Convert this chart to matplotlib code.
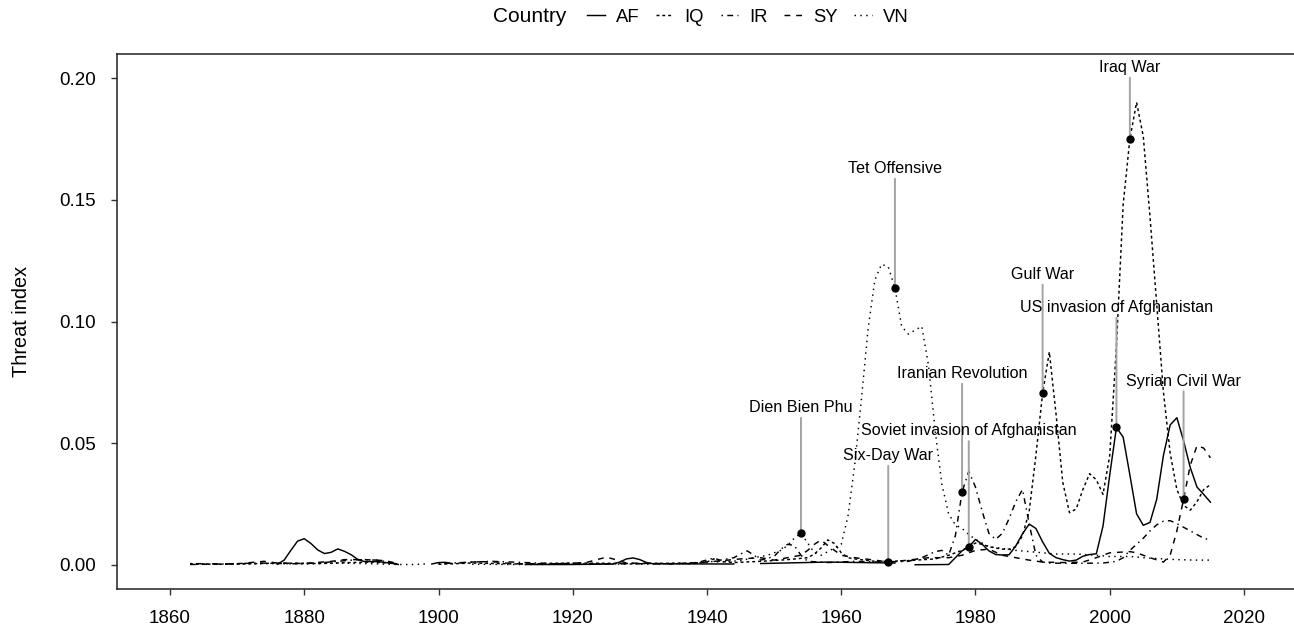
import numpy as np
import matplotlib.pyplot as plt
from matplotlib.lines import Line2D

plt.rcParams['font.family'] = 'Liberation Sans'

nan = np.nan

# threat index per country (year, value); nan marks gaps in the series
af_year = [1876, 1877, 1878, 1879, 1880, 1881, 1882, 1883, 1884, 1885, 1886, 1887, 1888, 1889, 1891, 1893, 1894, 1895,
           1899, 1900, 1901, 1902, 1903,
           1913, 1920, 1926, 1927, 1928, 1929, 1930, 1931, 1932, 1944, 1945,
           1948, 1958, 1968, 1969,
           1971, 1976, 1977, 1978, 1979, 1980, 1981, 1982, 1983, 1984, 1985, 1986, 1987, 1988, 1989, 1990,
           1991, 1992, 1993, 1994, 1995, 1996, 1997, 1998, 1999, 2000, 2001, 2002, 2003, 2004, 2005,
           2006, 2007, 2008, 2009, 2010, 2011, 2012, 2013, 2014, 2015]
af_val = [0.0003, 0.002, 0.006, 0.0098, 0.0108, 0.0088, 0.0062, 0.0047, 0.0052, 0.0066, 0.0056, 0.0042, 0.0022, 0.0014, 0.0014, 0.0007, 0.0002, nan,
          0.0004, 0.001, 0.0011, 0.0006, nan,
          0.0002, 0.0002, 0.0004, 0.0012, 0.0025, 0.0029, 0.0022, 0.001, 0.0005, 0.0004, nan,
          0.0006, 0.0012, 0.0008, nan,
          0.0001, 0.0002, 0.003, 0.0058, 0.0075, 0.0105, 0.0085, 0.0058, 0.0043, 0.0041, 0.0042, 0.0078, 0.0128, 0.0168, 0.015, 0.0095,
          0.0048, 0.003, 0.0022, 0.0016, 0.002, 0.0036, 0.0043, 0.0046, 0.016, 0.037, 0.0565, 0.0525, 0.037, 0.021, 0.0163,
          0.0175, 0.027, 0.045, 0.0575, 0.0605, 0.051, 0.04, 0.032, 0.029, 0.0258]

iq_year = [1863, 1868, 1872, 1876, 1882, 1887, 1890, 1894, 1895,
           1900, 1905, 1912, 1920, 1930, 1938, 1940, 1941, 1942, 1944, 1948, 1952, 1955, 1956, 1957, 1958, 1959, 1960, 1961, 1962, 1965, 1967, 1970, 1974, 1976, 1978,
           1980, 1981, 1982, 1983, 1984, 1985, 1986, 1987, 1988, 1989, 1990, 1991, 1992, 1993, 1994, 1995, 1996, 1997, 1998, 1999,
           2000, 2001, 2002, 2003, 2004, 2005, 2006, 2007, 2008, 2009, 2010, 2011, 2012, 2013, 2014, 2015]
iq_val = [0.0004, 0.0003, 0.0005, 0.0008, 0.0006, 0.001, 0.0012, 0.0005, nan,
          0.0003, 0.0008, 0.0004, 0.0008, 0.0006, 0.0008, 0.0012, 0.0025, 0.0015, 0.001, 0.0015, 0.0022, 0.003, 0.0045, 0.007, 0.0103, 0.0088, 0.005, 0.003, 0.0025, 0.0015, 0.0015, 0.0018, 0.0025, 0.004, 0.006,
          0.009, 0.0085, 0.0075, 0.007, 0.0065, 0.0065, 0.0075, 0.012, 0.022, 0.045, 0.0705, 0.0875, 0.062, 0.034, 0.0215, 0.023, 0.031, 0.0375, 0.035, 0.029,
          0.045, 0.09, 0.148, 0.175, 0.19, 0.176, 0.143, 0.107, 0.071, 0.046, 0.031, 0.0245, 0.0225, 0.026, 0.031, 0.033]

ir_year = [1863, 1868, 1873, 1878, 1882, 1885, 1888, 1891, 1894, 1895,
           1900, 1905, 1908, 1911, 1915, 1920, 1930, 1938, 1941, 1942, 1944, 1945, 1946, 1947, 1948, 1950, 1951, 1952, 1953, 1954, 1955, 1958, 1962, 1966, 1970, 1972, 1974, 1975, 1976,
           1977, 1978, 1979, 1980, 1981, 1982, 1983, 1984, 1985, 1986, 1987, 1988, 1989, 1990, 1991, 1993, 1996, 1999,
           2001, 2002, 2003, 2004, 2005, 2006, 2007, 2008, 2009, 2010, 2011, 2012, 2013, 2014, 2015]
ir_val = [0.0006, 0.0004, 0.0008, 0.0005, 0.0008, 0.0015, 0.0022, 0.002, 0.0004, nan,
          0.0005, 0.0012, 0.0015, 0.0012, 0.0008, 0.0004, 0.0005, 0.0006, 0.0028, 0.002, 0.003, 0.0045, 0.0058, 0.004, 0.002, 0.0035, 0.0065, 0.0085, 0.008, 0.004, 0.0015, 0.001, 0.0015, 0.0012, 0.0015, 0.003, 0.0055, 0.006, 0.004,
          0.012, 0.030, 0.0385, 0.032, 0.022, 0.013, 0.0105, 0.013, 0.019, 0.026, 0.031, 0.017, 0.004, 0.0012, 0.0008, 0.0007, 0.0007, 0.0008,
          0.0015, 0.003, 0.006, 0.0085, 0.011, 0.014, 0.0165, 0.018, 0.0182, 0.017, 0.0155, 0.014, 0.0125, 0.011, 0.0102]

sy_year = [1863, 1870, 1872, 1874, 1876, 1880, 1884, 1886, 1889, 1892, 1894, 1895,
           1903, 1906, 1909, 1911, 1918, 1922, 1924, 1925, 1926, 1928, 1935, 1940, 1945, 1948, 1950, 1954, 1955, 1956, 1957, 1958, 1959, 1960, 1962, 1965, 1967, 1970, 1973, 1976, 1978,
           1980, 1982, 1984, 1986, 1988, 1990, 1993, 1996, 1998, 2000, 2003, 2004, 2006, 2008, 2009, 2010, 2011, 2012, 2013, 2014, 2015]
sy_val = [0.0002, 0.0005, 0.001, 0.0015, 0.0008, 0.0006, 0.0015, 0.0022, 0.0022, 0.0018, 0.0006, nan,
          0.0008, 0.0014, 0.0012, 0.0005, 0.0005, 0.001, 0.0025, 0.0032, 0.0025, 0.0008, 0.0005, 0.0012, 0.0025, 0.003, 0.002, 0.004, 0.006, 0.0085, 0.0103, 0.008, 0.006, 0.004, 0.003, 0.002, 0.0012, 0.002, 0.003, 0.003, 0.004,
          0.006, 0.0065, 0.004, 0.003, 0.002, 0.0012, 0.001, 0.0012, 0.003, 0.005, 0.0055, 0.005, 0.003, 0.0012, 0.004, 0.014, 0.027, 0.041, 0.049, 0.048, 0.044]

vn_year = [1863, 1870, 1875, 1880, 1885, 1890, 1894, 1896, 1898, 1899,
           1905, 1912, 1920, 1930, 1938, 1940, 1942, 1945, 1947, 1949, 1950, 1951, 1952, 1953, 1954, 1955, 1956, 1957, 1958, 1959, 1960,
           1961, 1962, 1963, 1964, 1965, 1966, 1967, 1968, 1969, 1970, 1971, 1972, 1973, 1974, 1975, 1976, 1977, 1978, 1979, 1980,
           1981, 1982, 1984, 1986, 1988, 1990, 1992, 1995, 1998, 2000, 2003, 2006, 2008, 2010, 2013, 2015]
vn_val = [0.0003, 0.0004, 0.0006, 0.0004, 0.0008, 0.0005, 0.0002, 0.0002, 0.0004, nan,
          0.0003, 0.0002, 0.0003, 0.0004, 0.0005, 0.0015, 0.0012, 0.0018, 0.003, 0.004, 0.005, 0.006, 0.008, 0.011, 0.0131, 0.009, 0.005, 0.004, 0.0055, 0.007, 0.0085,
          0.02, 0.041, 0.068, 0.097, 0.117, 0.1235, 0.1225, 0.1138, 0.098, 0.0948, 0.0965, 0.098, 0.082, 0.055, 0.033, 0.021, 0.0165, 0.015, 0.0125, 0.0105,
          0.009, 0.0075, 0.0068, 0.006, 0.0055, 0.005, 0.0045, 0.0045, 0.004, 0.0035, 0.0035, 0.0028, 0.0025, 0.0022, 0.002, 0.002]

countries = ['AF', 'IQ', 'IR', 'SY', 'VN']
series = {
    'AF': (af_year, af_val),
    'IQ': (iq_year, iq_val),
    'IR': (ir_year, ir_val),
    'SY': (sy_year, sy_val),
    'VN': (vn_year, vn_val),
}

event_labels = ['Dien Bien Phu', 'Tet Offensive', 'Six-Day War', 'Iranian Revolution',
                'Soviet invasion of Afghanistan', 'Gulf War', 'US invasion of Afghanistan',
                'Iraq War', 'Syrian Civil War']
event_country = ['VN', 'VN', 'SY', 'IR', 'AF', 'IQ', 'AF', 'IQ', 'SY']
event_year = [1954, 1968, 1967, 1978, 1979, 1990, 2001, 2003, 2011]
# label heights (layout only)
label_y = [0.0628, 0.161, 0.0431, 0.0768, 0.0532, 0.1175, 0.1039, 0.2025, 0.0737]

styles = {
    'AF': '-',
    'IQ': (0, (2, 2)),
    'IR': (0, (1, 3, 4, 3)),
    'SY': (0, (4, 4)),
    'VN': (0, (1, 3)),
}

W, H = 1294, 627
fig = plt.figure(figsize=(W / 100, H / 100), dpi=100)
# right edge of the panel sits just off the canvas, as in the reference
ax = fig.add_axes([117 / W, 38 / H, (1296 - 117) / W, (589 - 54) / H])

handles = []
for c in countries:
    yrs, vals = series[c]
    ax.plot(yrs, vals, color='black', lw=1.05, linestyle=styles[c])
    handles.append(Line2D([], [], color='black', lw=1.05, linestyle=styles[c]))

for lab, c, yr, ly in zip(event_labels, event_country, event_year, label_y):
    yrs, vals = series[c]
    v = dict(zip(yrs, vals))[yr]
    ax.annotate(lab, xy=(yr, v), xytext=(yr, ly), ha='center', va='baseline',
                fontsize=11.6, color='black',
                arrowprops=dict(arrowstyle='-', color='#a3a3a3', lw=1.4,
                                shrinkA=0, shrinkB=0))
    ax.plot(yr, v, 'o', color='black', ms=5, zorder=5)

ax.set_xlim(1852.1, 2027.75)
ax.set_ylim(-0.00986, 0.20986)
ax.set_xticks([1860, 1880, 1900, 1920, 1940, 1960, 1980, 2000, 2020])
ax.set_yticks([0.0, 0.05, 0.10, 0.15, 0.20])
ax.set_yticklabels(['0.00', '0.05', '0.10', '0.15', '0.20'])
ax.tick_params(axis='both', direction='out', length=4.3, width=1, color='#333333',
               labelsize=13.5, labelcolor='black')
ax.tick_params(axis='y', pad=11)
ax.tick_params(axis='x', pad=11)
for s in ax.spines.values():
    s.set_linewidth(1.1)
    s.set_color('#222222')
ax.set_ylabel('Threat index', fontsize=14.3, labelpad=20)

fig.text(493 / W, 1 - 17 / H, 'Country', fontsize=15, ha='left', va='center')
fig.legend(handles, countries, loc='center left', bbox_to_anchor=(587 / W, 1 - 17 / H),
           ncol=5, frameon=False, fontsize=13.3, handlelength=0.95, handletextpad=0.6,
           columnspacing=0.9, borderpad=0, borderaxespad=0)

fig.savefig('out.png', dpi=100)
